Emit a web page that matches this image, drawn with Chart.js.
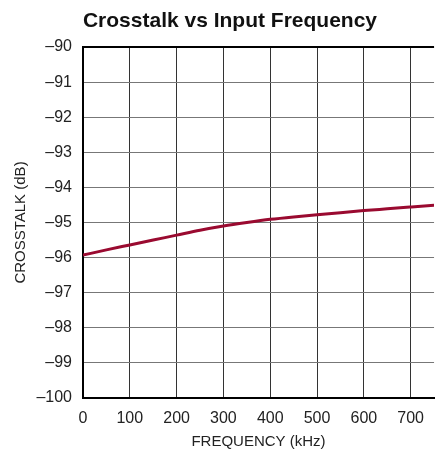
<!DOCTYPE html>
<html>
<head>
<meta charset="utf-8">
<script src="https://cdn.jsdelivr.net/npm/chart.js@4"></script>
<style>
  html, body { margin: 0; padding: 0; background: #fff; }
  #wrap { width: 435px; height: 458px; }
</style>
</head>
<body>
<div id="wrap"><canvas id="chart" width="435" height="458"></canvas></div>
<script>
const freqKHz = [0, 50, 100, 150, 200, 250, 300, 350, 400, 450, 500, 550, 600, 650, 700, 750]
const crosstalkDb = [-95.93, -95.78, -95.64, -95.50, -95.36, -95.22, -95.10, -95.00, -94.91, -94.84, -94.78, -94.72, -94.66, -94.61, -94.56, -94.51]
const xTicks = [0, 100, 200, 300, 400, 500, 600, 700]
const yTicks = [-90, -91, -92, -93, -94, -95, -96, -97, -98, -99, -100]
const chartTitle = 'Crosstalk vs Input Frequency'

const fam = "'Liberation Sans', Arial"
const tickFont = { family: fam, size: 16 }

new Chart(document.getElementById('chart'), {
    type: 'line',
    data: {
        datasets: [{
            data: freqKHz.map((f, i) => ({ x: f, y: crosstalkDb[i] })),
            borderColor: '#9a0a30',
            borderWidth: 3,
            pointRadius: 0,
            cubicInterpolationMode: 'monotone',
        }]
    },
    options: {
        responsive: false,
        animation: false,
        layout: { padding: { top: 47 } },
        plugins: {
            legend: { display: false },
            tooltip: { enabled: false },
            title: { display: false },
        },
        scales: {
            x: {
                type: 'linear',
                min: 0,
                max: 750,
                afterBuildTicks: (axis) => { axis.ticks = xTicks.map(v => ({ value: v })) },
                afterFit: (axis) => { axis.height = 60 },
                grid: { color: '#333', lineWidth: 1, drawTicks: false },
                border: { color: '#000', width: 2 },
                ticks: { color: '#222', font: tickFont, padding: 11, maxRotation: 0 },
                title: {
                    display: true,
                    text: 'FREQUENCY (kHz)',
                    color: '#222',
                    font: { family: fam, size: 15 },
                    padding: { top: 0, bottom: 7 },
                },
            },
            y: {
                type: 'linear',
                min: -100,
                max: -90,
                afterBuildTicks: (axis) => { axis.ticks = yTicks.map(v => ({ value: v })) },
                afterFit: (axis) => { axis.width = 83 },
                grid: { color: '#777', lineWidth: 1, drawTicks: false },
                border: { color: '#000', width: 2 },
                ticks: {
                    color: '#222',
                    font: tickFont,
                    padding: 11,
                    callback: (v) => v === 0 ? '0' : '\u2013' + Math.abs(v),
                },
                title: {
                    display: true,
                    text: 'CROSSTALK (dB)',
                    color: '#222',
                    font: { family: fam, size: 15 },
                    padding: { top: 12, bottom: 0 },
                },
            },
        },
    },
    plugins: [{
        id: 'frameAndTitle',
        afterDraw(chart) {
            const { ctx, chartArea } = chart
            ctx.save()
            // top frame line
            ctx.strokeStyle = '#000'
            ctx.lineWidth = 2
            ctx.beginPath()
            ctx.moveTo(chartArea.left, chartArea.top)
            ctx.lineTo(chartArea.right, chartArea.top)
            ctx.stroke()
            // title, a bit right of centre like the original
            ctx.fillStyle = '#111'
            ctx.font = "bold 21px " + fam
            ctx.textAlign = 'center'
            ctx.textBaseline = 'alphabetic'
            ctx.fillText(chartTitle, 230, 27)
            ctx.restore()
        }
    }]
})
</script>
</body>
</html>
